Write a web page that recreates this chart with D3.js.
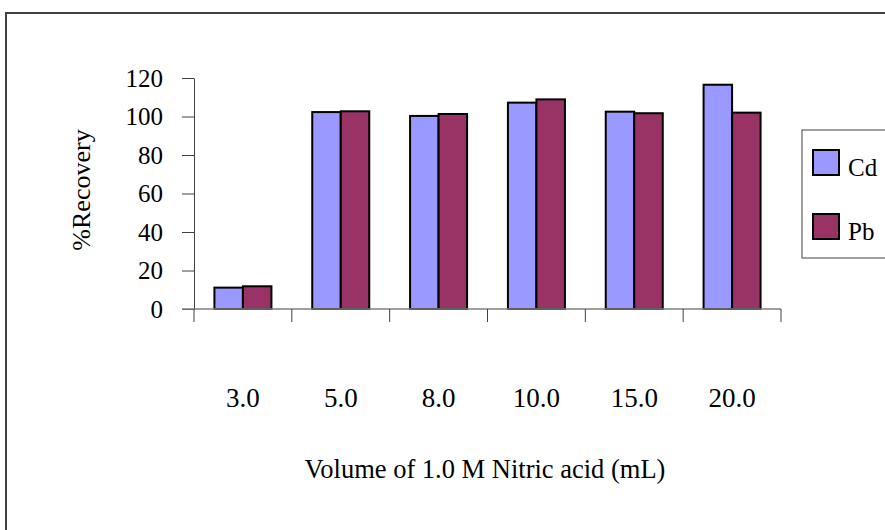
<!DOCTYPE html>
<html>
<head>
<meta charset="utf-8">
<script src="https://cdn.jsdelivr.net/npm/d3@7"></script>
<style>
  body { margin: 0; background: #fff; }
  svg { display: block; }
  text { font-family: "Liberation Serif", "Times New Roman", serif; fill: #000; }
</style>
</head>
<body>
<svg id="chart" width="885" height="530"></svg>
<script>
// Recovery data per volume of 1.0 M nitric acid
const categories = ["3.0", "5.0", "8.0", "10.0", "15.0", "20.0"];
const cdValues = [11.1, 102.3, 100.3, 107.2, 102.5, 116.5];
const pbValues = [11.8, 102.7, 101.3, 108.9, 101.7, 102.0];
const seriesNames = ["Cd", "Pb"];
const seriesColors = ["#9999FF", "#993366"];
const yTicks = [0, 20, 40, 60, 80, 100, 120];

const svg = d3.select("#chart");

// outer chart frame
svg.append("rect")
  .attr("x", 6).attr("y", 13)
  .attr("width", 900).attr("height", 540)
  .attr("fill", "none").attr("stroke", "#404040").attr("stroke-width", 2);

const plot = { left: 194, right: 781, top: 78, bottom: 309 };

const x0 = d3.scaleBand().domain(categories).range([plot.left, plot.right]).paddingInner(0).paddingOuter(0);
const x1 = d3.scaleBand().domain(seriesNames).range([0, x0.bandwidth()]).paddingOuter(0.716).paddingInner(0);
const y = d3.scaleLinear().domain([0, 120]).range([plot.bottom, plot.top]);

const rows = categories.map((c, i) => ({ cat: c, vals: [cdValues[i], pbValues[i]] }));

// bars
const groups = svg.append("g").selectAll("g").data(rows).join("g")
  .attr("transform", d => `translate(${x0(d.cat)},0)`);
groups.selectAll("rect")
  .data(d => d.vals.map((v, k) => ({ name: seriesNames[k], v, color: seriesColors[k] })))
  .join("rect")
  .attr("x", d => x1(d.name))
  .attr("width", x1.bandwidth())
  .attr("y", d => y(d.v))
  .attr("height", d => y(0) - y(d.v))
  .attr("fill", d => d.color)
  .attr("stroke", "#000").attr("stroke-width", 2);

// y axis
const yAxis = svg.append("g")
  .attr("transform", `translate(${plot.left},0)`)
  .call(d3.axisLeft(y).tickValues(yTicks).tickSize(12).tickSizeOuter(0).tickPadding(19));
yAxis.select(".domain").attr("stroke", "#404040");
yAxis.selectAll(".tick line").attr("stroke", "#404040");
yAxis.selectAll("text").style("font-size", "25px");

// x axis: zero line with ticks at the category boundaries
const xBase = svg.append("g");
xBase.append("line")
  .attr("x1", plot.left - 12).attr("x2", plot.right)
  .attr("y1", y(0)).attr("y2", y(0))
  .attr("stroke", "#808080").attr("stroke-width", 1.5);
const boundaries = categories.map(c => x0(c)).concat([plot.right]);
xBase.selectAll("line.bt").data(boundaries).join("line")
  .attr("class", "bt")
  .attr("x1", d => d).attr("x2", d => d)
  .attr("y1", y(0)).attr("y2", y(0) + 13)
  .attr("stroke", "#404040").attr("stroke-width", 1);

// category labels
svg.append("g").selectAll("text").data(categories).join("text")
  .attr("x", d => x0(d) + x0.bandwidth() / 2)
  .attr("y", 407)
  .attr("text-anchor", "middle")
  .style("font-size", "27px")
  .text(d => d);

// axis titles
svg.append("text")
  .attr("x", 485).attr("y", 478)
  .attr("text-anchor", "middle")
  .style("font-size", "26.5px")
  .text("Volume of 1.0 M Nitric acid (mL)");

svg.append("text")
  .attr("transform", "translate(90,190) rotate(-90)")
  .attr("text-anchor", "middle")
  .style("font-size", "26px")
  .text("%Recovery");

// legend
const legend = svg.append("g");
legend.append("rect")
  .attr("x", 802).attr("y", 130).attr("width", 100).attr("height", 128)
  .attr("fill", "#fff").attr("stroke", "#404040").attr("stroke-width", 1);
const items = legend.selectAll("g.item").data(seriesNames).join("g")
  .attr("class", "item")
  .attr("transform", (d, i) => `translate(813,${150 + i * 64})`);
items.append("rect")
  .attr("width", 26).attr("height", 25)
  .attr("fill", (d, i) => seriesColors[i])
  .attr("stroke", "#000").attr("stroke-width", 2);
items.append("text")
  .attr("x", 35).attr("y", 26)
  .style("font-size", "25px")
  .text(d => d);
</script>
</body>
</html>
